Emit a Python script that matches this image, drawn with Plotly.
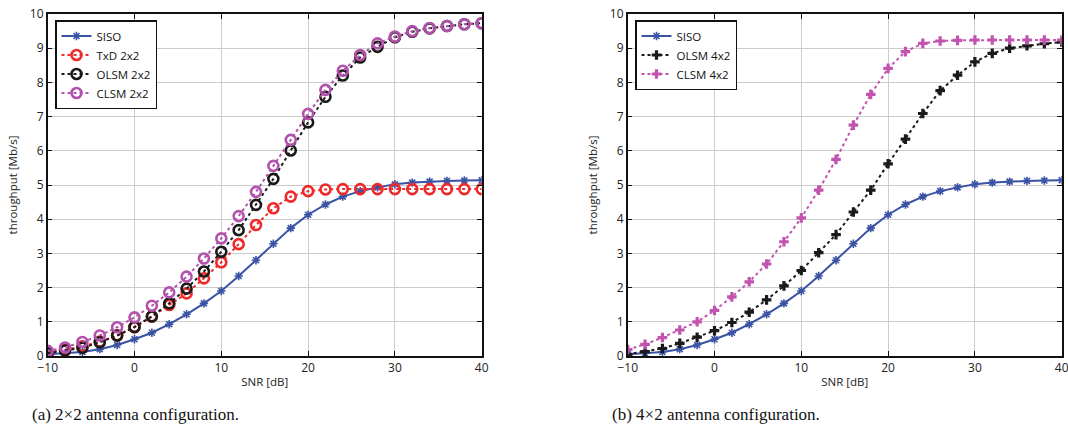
import plotly.graph_objects as go

snr = list(range(-10, 41, 2))

siso = [0.05, 0.08, 0.12, 0.2, 0.32, 0.49, 0.68, 0.93, 1.22, 1.54, 1.9, 2.34, 2.8, 3.28, 3.74, 4.13, 4.43, 4.66, 4.82, 4.93, 5.02, 5.07, 5.1, 5.12, 5.13, 5.14]

txd_2x2 = [0.1, 0.18, 0.28, 0.42, 0.6, 0.84, 1.15, 1.49, 1.83, 2.27, 2.74, 3.27, 3.83, 4.32, 4.66, 4.82, 4.87, 4.88, 4.88, 4.88, 4.88, 4.88, 4.88, 4.88, 4.88, 4.88]
olsm_2x2 = [0.08, 0.16, 0.24, 0.4, 0.6, 0.85, 1.16, 1.54, 1.97, 2.47, 3.05, 3.68, 4.42, 5.18, 6.01, 6.83, 7.58, 8.2, 8.73, 9.04, 9.32, 9.48, 9.58, 9.65, 9.7, 9.73]
clsm_2x2 = [0.15, 0.25, 0.41, 0.6, 0.84, 1.13, 1.47, 1.86, 2.32, 2.85, 3.44, 4.09, 4.8, 5.56, 6.32, 7.08, 7.78, 8.34, 8.8, 9.14, 9.34, 9.5, 9.59, 9.65, 9.7, 9.73]

olsm_4x2 = [0.05, 0.13, 0.22, 0.37, 0.55, 0.74, 0.98, 1.28, 1.64, 2.05, 2.5, 3.02, 3.55, 4.21, 4.85, 5.62, 6.34, 7.09, 7.76, 8.21, 8.6, 8.85, 9.0, 9.07, 9.13, 9.18]
clsm_4x2 = [0.19, 0.34, 0.54, 0.76, 1.0, 1.33, 1.73, 2.17, 2.69, 3.34, 4.04, 4.85, 5.75, 6.75, 7.65, 8.41, 8.9, 9.14, 9.21, 9.23, 9.24, 9.24, 9.24, 9.24, 9.24, 9.24]

x_ticks = [-10, 0, 10, 20, 30, 40]
y_ticks = list(range(0, 11))
captions = ["(a) 2×2 antenna configuration.", "(b) 4×2 antenna configuration."]

BLUE = "#3b53a4"
RED = "#ee2a2a"
BLACK = "#1a1a1a"
PURPLE = "#b252ac"
PINK = "#c254b0"
FONT = "Open Sans"

fig = go.Figure()

def add(x, y, name, color, dash, symbol, size, lw_marker, xa, ya, legend):
    marker = dict(symbol=symbol, size=size, color=color,
                  line=dict(color=color, width=lw_marker))
    fig.add_trace(go.Scatter(
        x=x, y=y, name=name, mode="lines+markers",
        line=dict(color=color, width=2, dash=dash),
        marker=marker, xaxis=xa, yaxis=ya, legend=legend))

# left panel
add(snr, siso, "SISO", BLUE, "solid", "asterisk-open", 7, 1.6, "x", "y", "legend")
add(snr, txd_2x2, "TxD 2x2", RED, "dot", "circle-open", 10, 2.6, "x", "y", "legend")
add(snr, olsm_2x2, "OLSM 2x2", BLACK, "dot", "circle-open", 10, 2.6, "x", "y", "legend")
add(snr, clsm_2x2, "CLSM 2x2", PURPLE, "dot", "circle-open", 10, 2.6, "x", "y", "legend")

# right panel
add(snr, siso, "SISO", BLUE, "solid", "asterisk-open", 7, 1.6, "x2", "y2", "legend2")
add(snr, olsm_4x2, "OLSM 4x2", BLACK, "dot", "cross", 8, 0, "x2", "y2", "legend2")
add(snr, clsm_4x2, "CLSM 4x2", PINK, "dot", "cross", 8, 0, "x2", "y2", "legend2")

xdom1 = [47.7 / 1068, 481.7 / 1068]
xdom2 = [627.7 / 1068, 1061.7 / 1068]
ydom = [1 - 356 / 442, 1 - 14 / 442]

axis_common = dict(
    showline=True, linecolor="#111", linewidth=1.5, mirror="ticks",
    ticks="inside", ticklen=5, tickwidth=1, tickcolor="#111",
    showgrid=True, gridcolor="#cccccc", gridwidth=1, zeroline=False,
    tickfont=dict(family=FONT, size=12, color="#222"),
    automargin=False, ticklabeloverflow="allow",
)

xa = dict(axis_common, range=[-10, 40], tickvals=x_ticks,
          title=dict(text="SNR [dB]", font=dict(family=FONT, size=11.5, color="#222"), standoff=3))
ya = dict(axis_common, range=[0, 10], tickvals=y_ticks,
          title=dict(text="throughput [Mb/s]", font=dict(family=FONT, size=11.5, color="#222"), standoff=10))

legend_common = dict(
    bgcolor="white", bordercolor="#111", borderwidth=1.5,
    font=dict(family=FONT, size=11.5, color="#111"),
    xanchor="left", yanchor="top", tracegroupgap=0, itemwidth=30,
)

fig.update_layout(
    width=1068, height=442,
    margin=dict(l=0, r=0, t=0, b=0),
    paper_bgcolor="white", plot_bgcolor="white",
    xaxis=dict(xa, domain=xdom1, anchor="y"),
    yaxis=dict(ya, domain=ydom, anchor="x"),
    xaxis2=dict(xa, domain=xdom2, anchor="y2"),
    yaxis2=dict(ya, domain=ydom, anchor="x2"),
    legend=dict(legend_common, x=55 / 1068, y=1 - 20 / 442),
    legend2=dict(legend_common, x=635 / 1068, y=1 - 20 / 442),
    annotations=[
        dict(text=captions[0], xref="paper", yref="paper", x=30 / 1068, y=1 - 414 / 442,
             xanchor="left", yanchor="middle", showarrow=False,
             font=dict(family="Liberation Serif", size=17, color="#111")),
        dict(text=captions[1], xref="paper", yref="paper", x=610 / 1068, y=1 - 414 / 442,
             xanchor="left", yanchor="middle", showarrow=False,
             font=dict(family="Liberation Serif", size=17, color="#111")),
    ],
)

fig.write_html("out.html", config={"displayModeBar": False},
               post_script="document.body.style.margin='0';document.body.style.padding='0';")
